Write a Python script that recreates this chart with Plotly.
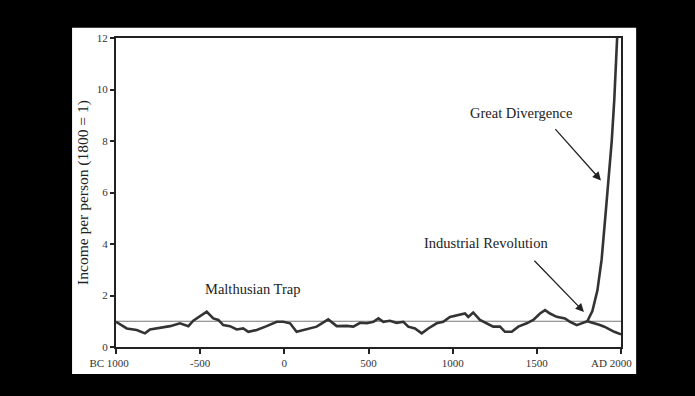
import plotly.graph_objects as go

# Pre-industrial income per person (1800 = 1)
years = [-1000, -936, -877, -828, -798, -758, -679, -620, -570, -541, -501, -461,
         -422, -392, -363, -323, -283, -244, -214, -164, -105, -45, -6, 34, 73,
         133, 192, 261, 311, 370, 410, 450, 490, 529, 559, 588, 627, 667, 707,
         736, 776, 816, 855, 905, 944, 984, 1033, 1073, 1093, 1122, 1162, 1202,
         1241, 1281, 1311, 1351, 1390, 1440, 1479, 1519, 1549, 1578, 1618, 1667,
         1697, 1737, 1766, 1800]
income = [0.98, 0.72, 0.66, 0.53, 0.68, 0.72, 0.81, 0.92, 0.81, 1.02, 1.20, 1.37,
          1.11, 1.05, 0.85, 0.81, 0.68, 0.72, 0.59, 0.66, 0.81, 0.98, 0.98, 0.92,
          0.59, 0.68, 0.79, 1.07, 0.81, 0.82, 0.79, 0.94, 0.92, 0.98, 1.11, 0.98,
          1.02, 0.94, 0.98, 0.79, 0.72, 0.53, 0.72, 0.92, 0.98, 1.17, 1.24, 1.30,
          1.17, 1.34, 1.05, 0.92, 0.79, 0.79, 0.59, 0.59, 0.79, 0.92, 1.05, 1.30,
          1.43, 1.30, 1.17, 1.11, 0.98, 0.85, 0.92, 1.00]

# Great Divergence: rich branch and poor branch after 1800
rich_years = [1800, 1830, 1860, 1885, 1910, 1930, 1945, 1960, 1977]
rich_income = [1.00, 1.40, 2.20, 3.40, 5.30, 6.90, 8.00, 9.60, 12.0]
poor_years = [1800, 1840, 1870, 1901, 1930, 1960, 2000]
poor_income = [1.00, 0.93, 0.86, 0.79, 0.69, 0.59, 0.49]

# Reference level (1800 = 1)
ref_years = [-1000, 2000]
ref_income = [1, 1]

NB = "\u00a0"
x_ticks = [-1000, -500, 0, 500, 1000, 1500, 2000]
x_tick_labels = ["BC 1000" + NB * 5, "-500", "0", "500", "1000", "1500",
                 "AD 2000" + NB * 7]
y_ticks = [0, 2, 4, 6, 8, 10, 12]

FONT = "Liberation Serif"
LINE = "#333333"

fig = go.Figure()
fig.add_trace(go.Scatter(x=ref_years, y=ref_income, mode="lines",
                         line=dict(color="#777777", width=1), hoverinfo="skip"))
fig.add_trace(go.Scatter(x=years, y=income, mode="lines",
                         line=dict(color=LINE, width=2.6)))
fig.add_trace(go.Scatter(x=rich_years, y=rich_income, mode="lines",
                         line=dict(color=LINE, width=2.6)))
fig.add_trace(go.Scatter(x=poor_years, y=poor_income, mode="lines",
                         line=dict(color=LINE, width=2.6)))

# white card behind chart
fig.add_shape(type="rect", xref="paper", yref="paper",
              x0=-0.087, x1=1.030, y0=-0.087, y1=1.033,
              fillcolor="white", line=dict(width=0), layer="below")

fig.add_annotation(x=-189, y=2.25, text="Malthusian Trap", showarrow=False,
                   font=dict(family=FONT, size=14.5, color="#222"))
fig.add_annotation(x=1198, y=4.03, text="Industrial Revolution", showarrow=False,
                   font=dict(family=FONT, size=14.5, color="#222"))
fig.add_annotation(x=1406, y=9.10, text="Great Divergence", showarrow=False,
                   font=dict(family=FONT, size=14.5, color="#222"))
# arrows
fig.add_annotation(x=1780, y=1.36, ax=1477, ay=3.41, xref="x", yref="y",
                   axref="x", ayref="y", text="", showarrow=True,
                   arrowhead=2, arrowsize=1.3, arrowwidth=1.3, arrowcolor="#222")
fig.add_annotation(x=1881, y=6.47, ax=1602, ay=8.52, xref="x", yref="y",
                   axref="x", ayref="y", text="", showarrow=True,
                   arrowhead=2, arrowsize=1.3, arrowwidth=1.3, arrowcolor="#222")

fig.update_layout(
    width=695, height=396,
    paper_bgcolor="black", plot_bgcolor="white",
    margin=dict(l=116, r=74, t=38, b=49),
    showlegend=False,
    font=dict(family=FONT, size=11, color="#333"),
)
fig.update_xaxes(range=[-1000, 2000], tickvals=x_ticks, ticktext=x_tick_labels,
                 showgrid=False, zeroline=False, showline=True, linecolor="#222",
                 linewidth=2, mirror=True, ticks="outside", ticklen=5,
                 tickwidth=1.5, tickcolor="#222",
                 tickfont=dict(family=FONT, size=11, color="#333"))
fig.update_yaxes(range=[0, 12], tickvals=y_ticks,
                 showgrid=False, zeroline=False, showline=True, linecolor="#222",
                 linewidth=2, mirror=True, ticks="outside", ticklen=4,
                 tickwidth=1.5, tickcolor="#222",
                 tickfont=dict(family=FONT, size=11, color="#333"),
                 title=dict(text="Income per person (1800 = 1)", standoff=4,
                            font=dict(family=FONT, size=15.5, color="#222")))

fig.write_html(
    "out.html",
    config={"displayModeBar": False},
    post_script="document.body.style.margin='0';document.body.style.background='black';",
)
